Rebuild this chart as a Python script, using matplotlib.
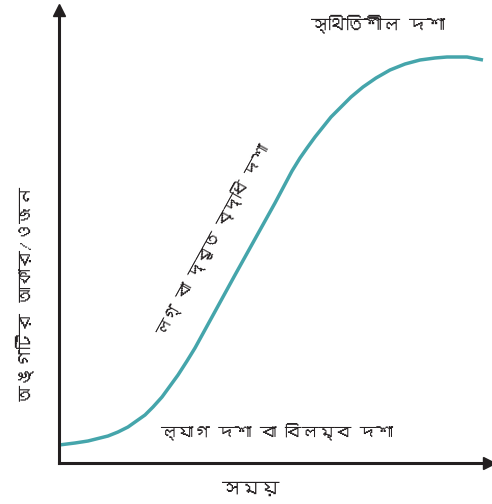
import matplotlib
matplotlib.use("Agg")
import matplotlib.pyplot as plt
from matplotlib import font_manager as fm

# growth curve (arbitrary units)
time = [0, 16, 29, 49, 59, 69, 86, 94, 103, 119, 128, 136, 153, 176, 196,
        216, 233, 241, 248, 256, 264, 272, 281, 292, 304, 317, 331, 346,
        361, 376, 388, 408, 424]
size = [18, 20, 22, 27, 31, 36, 48, 56, 66, 88, 102, 115, 146, 188, 224,
        260, 292, 305, 315, 326, 336, 346, 355, 366, 376, 385, 393, 399,
        403, 405, 406, 406, 403]

xlabel = "সময়"
ylabel = "অঙ্গটির আকার/ওজন"
stationary = "স্থিতিশীল দশা"
log_phase = "লগ্ বা দ্রুত বৃদ্ধি দশা"
lag_phase = "ল্যাগ দশা বা বিলম্ব দশা"


def find_bengali_font():
    """Return the name of an installed font that has Bengali glyphs, if any."""
    try:
        from fontTools.ttLib import TTFont
    except ImportError:
        return None
    for f in fm.fontManager.ttflist:
        try:
            tt = TTFont(f.fname, fontNumber=0, lazy=True)
            cmap = tt.getBestCmap() or {}
            if 0x0995 in cmap and 0x09BE in cmap:
                return f.name
        except Exception:
            continue
    return None


bn = find_bengali_font()
families = ([bn] if bn else []) + ["DejaVu Sans"]
plt.rcParams["font.family"] = families

W, H = 492, 504
fig = plt.figure(figsize=(W / 100, H / 100), dpi=100)

# axes: y spine at x=59px, x spine at y=463px, arrows at the ends
left, bottom = 59, 463
ax = fig.add_axes([left / W, (H - bottom) / H, (W - 3 - left) / W, (bottom - 10) / H])
ax.set_xlim(0, W - 3 - left)
ax.set_ylim(0, bottom - 10)

ax.plot(time, size, color="#45a5ab", lw=2.5, solid_capstyle="butt",
        solid_joinstyle="round", clip_on=False)

for s in ["top", "right"]:
    ax.spines[s].set_visible(False)
for s in ["left", "bottom"]:
    ax.spines[s].set_linewidth(2.2)
    ax.spines[s].set_color("#231f20")
ax.set_xticks([])
ax.set_yticks([])
ax.plot(1, 0, ">", color="#231f20", ms=9, transform=ax.transAxes, clip_on=False)
ax.plot(0, 1, "^", color="#231f20", ms=9, transform=ax.transAxes, clip_on=False)


def px(x, y):
    return x / W, 1 - y / H


tc = "#231f20"
fig.text(*px(378, 24), stationary, fontsize=13, ha="center", va="center", color=tc)
fig.text(*px(277, 432), lag_phase, fontsize=12, ha="center", va="center", color=tc)
fig.text(*px(213, 240), log_phase, fontsize=12, ha="center", va="center",
         rotation=61, rotation_mode="anchor", color=tc)
fig.text(*px(250, 489), xlabel, fontsize=14, ha="center", va="center", color=tc)
fig.text(*px(25, 295), ylabel, fontsize=13, ha="center", va="center",
         rotation=90, color=tc)

fig.savefig("out.png", dpi=100)
